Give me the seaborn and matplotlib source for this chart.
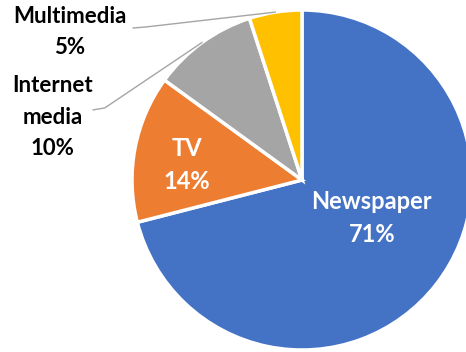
import numpy as np
import matplotlib
matplotlib.use("Agg")
import matplotlib.pyplot as plt
import seaborn as sns

categories = ["Newspaper", "TV", "Internet media", "Multimedia"]
shares = [71, 14, 10, 5]
label_lines = ["Newspaper", "TV", "Internet\nmedia", "Multimedia"]
colors = ["#4472C4", "#ED7D31", "#A5A5A5", "#FFC000"]

sns.set_style("white")
plt.rcParams["font.family"] = ["Lato", "DejaVu Sans"]
palette = sns.color_palette(colors)

fig = plt.figure(figsize=(4.66, 3.52), dpi=100)
ax = fig.add_axes([0, 0, 1, 1])
ax.set_axis_off()

wedges, _ = ax.pie(shares, colors=palette, startangle=90, counterclock=False,
                   radius=1.0, wedgeprops=dict(edgecolor="white", linewidth=2.5))

# view window: pie center sits right of middle, right edge clipped
ax.set_xlim(-302 / 170, 164 / 170)
ax.set_ylim(-172 / 170, 180 / 170)
ax.set_aspect("auto")

txt_kw = dict(ha="center", va="center", fontweight="bold")

def mid_angle(w):
    return np.deg2rad((w.theta1 + w.theta2) / 2)

# inside labels
ax.text(0.41, -0.225, f"{label_lines[0]}\n{shares[0]}%", color="white",
        fontsize=17, linespacing=1.5, **txt_kw)
ax.text(-0.675, 0.088, f"{label_lines[1]}\n{shares[1]}%", color="white",
        fontsize=17, linespacing=1.5, **txt_kw)

# outside labels with leader lines
a = mid_angle(wedges[2])
ex, ey = np.cos(a), np.sin(a)
ax.plot([-1.23, -1.16, ex], [0.412, 0.424, ey], color="#A5A5A5", lw=1.0)
ax.text(-1.465, 0.37, f"{label_lines[2]}\n{shares[2]}%", color="black",
        fontsize=16, linespacing=1.6, **txt_kw)

a = mid_angle(wedges[3])
ex, ey = np.cos(a), np.sin(a)
ax.plot([-0.995, -0.92, ex], [0.894, 0.90, ey], color="#A5A5A5", lw=1.0)
ax.text(-1.365, 0.87, f"{label_lines[3]}\n{shares[3]}%", color="black",
        fontsize=16, linespacing=1.6, **txt_kw)

fig.savefig("out.png", dpi=100)
